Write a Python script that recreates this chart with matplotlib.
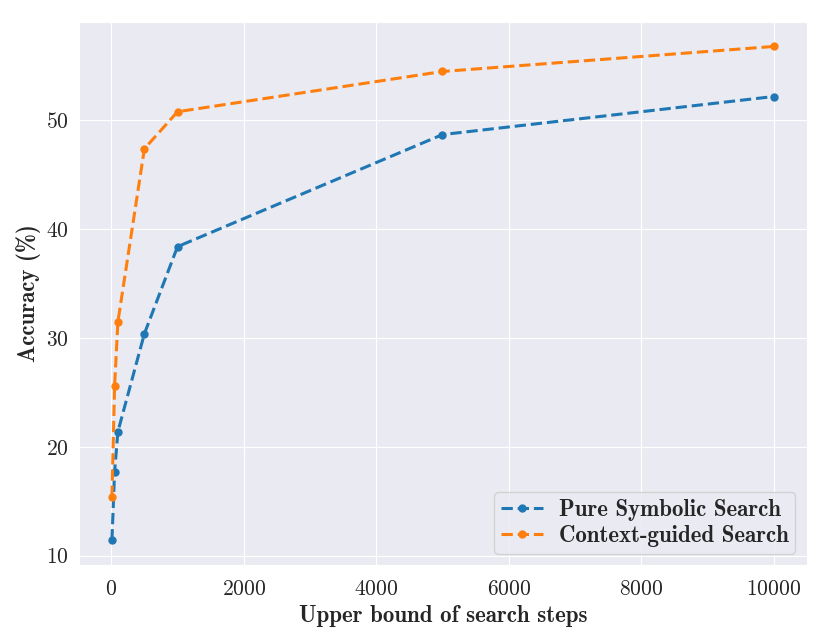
import matplotlib
matplotlib.use("Agg")
import matplotlib.pyplot as plt
import seaborn as sns

steps = [10, 50, 100, 500, 1000, 5000, 10000]
pure_symbolic = [11.4, 17.7, 21.4, 30.4, 38.4, 48.7, 52.2]
context_guided = [15.4, 25.6, 31.5, 47.4, 50.8, 54.5, 56.8]

sns.set_style("darkgrid")
plt.rcParams['font.family'] = ['cmr10', 'DejaVu Serif']
plt.rcParams['axes.formatter.use_mathtext'] = True

fig = plt.figure(figsize=(8.3, 6.4), dpi=100)
ax = fig.add_axes([0.095, 0.117, 0.877, 0.849])

ax.plot(steps, pure_symbolic, linestyle='--', marker='o', markersize=5, linewidth=2.2,
        color='#1f77b4', label='Pure Symbolic Search')
ax.plot(steps, context_guided, linestyle='--', marker='o', markersize=5, linewidth=2.2,
        color='#ff7f0e', label='Context-guided Search')

ax.set_yticks([10, 20, 30, 40, 50])
ax.set_xticks([0, 2000, 4000, 6000, 8000, 10000])
ax.tick_params(labelsize=15.5)
ax.tick_params(axis='x', pad=6.5)
for lbl in ax.get_xticklabels() + ax.get_yticklabels():
    lbl.set_fontfamily('cmr10')

ax.set_xlabel('Upper bound of search steps', fontsize=16.5, family='cmb10', labelpad=5)
ax.set_ylabel('Accuracy (%)', fontsize=16.5, family='cmb10', labelpad=4)

leg = ax.legend(loc='lower right', prop={'family': 'cmb10', 'size': 16.5}, frameon=True,
                labelspacing=0.15, borderpad=0.3, handlelength=1.8, handletextpad=0.7)

fig.savefig('out.png', dpi=100)
